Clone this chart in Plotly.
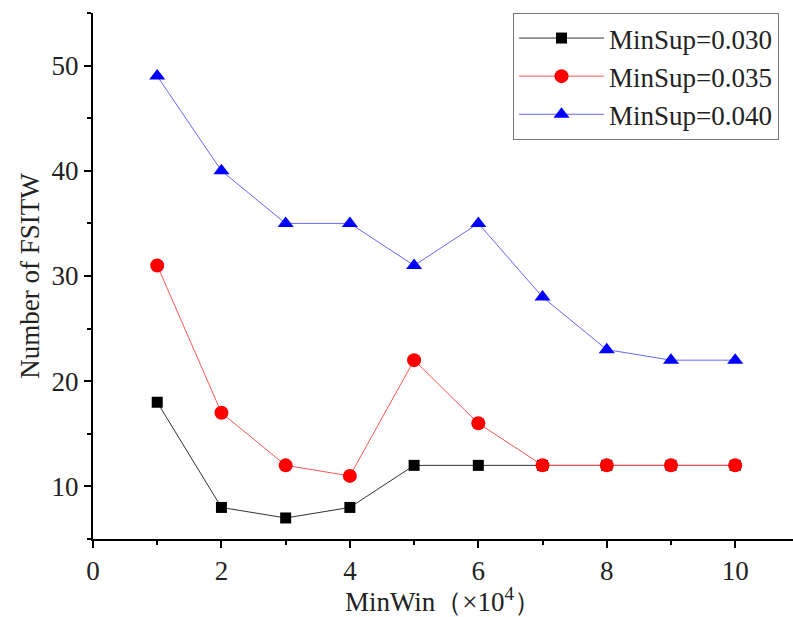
import plotly.graph_objects as go

min_win = [1, 2, 3, 4, 5, 6, 7, 8, 9, 10]
sup_030 = [18, 8, 7, 8, 12, 12, 12, 12, 12, 12]
sup_035 = [31, 17, 12, 11, 22, 16, 12, 12, 12, 12]
sup_040 = [49, 40, 35, 35, 31, 35, 28, 23, 22, 22]

FONT = "Liberation Serif, DejaVu Serif, serif"
TEXT_COLOR = "#222222"

fig = go.Figure()
fig.add_trace(go.Scatter(
    x=min_win, y=sup_030, name="MinSup=0.030", mode="lines+markers",
    line=dict(color="#333333", width=1),
    marker=dict(symbol="square", size=11, color="black"),
))
fig.add_trace(go.Scatter(
    x=min_win, y=sup_035, name="MinSup=0.035", mode="lines+markers",
    line=dict(color="#ff5555", width=1),
    marker=dict(symbol="circle", size=14, color="red"),
))
fig.add_trace(go.Scatter(
    x=min_win, y=sup_040, name="MinSup=0.040", mode="lines+markers",
    line=dict(color="#6666ff", width=1),
    marker=dict(symbol="triangle-up", size=14, color="blue"),
))

axis_common = dict(
    showline=True, linecolor="black", linewidth=2,
    ticks="outside", ticklen=7, tickwidth=2, tickcolor="black",
    showgrid=False, zeroline=False,
    tickfont=dict(family=FONT, size=27, color=TEXT_COLOR),
)

fig.update_xaxes(
    range=[0, 10.9], dtick=2, tick0=0,
    minor=dict(ticks="outside", ticklen=4, tickwidth=2, tickcolor="black", dtick=1, tick0=0),
    title=dict(text="MinWin（×10<sup>4</sup>）", font=dict(family=FONT, size=27, color=TEXT_COLOR), standoff=2),
    **axis_common,
)
fig.update_yaxes(
    range=[5, 55], dtick=10, tick0=0,
    minor=dict(ticks="outside", ticklen=4, tickwidth=2, tickcolor="black", dtick=5, tick0=0),
    title=dict(text="Number of FSITW", font=dict(family=FONT, size=27, color=TEXT_COLOR), standoff=4),
    **axis_common,
)

fig.update_layout(
    width=793, height=617,
    margin=dict(l=93, r=0, t=13, b=78),
    paper_bgcolor="white", plot_bgcolor="white",
    showlegend=True,
    legend=dict(
        x=0.6, y=1.0, xanchor="left", yanchor="top",
        bordercolor="#777777", borderwidth=1, bgcolor="white",
        font=dict(family=FONT, size=27, color=TEXT_COLOR),
        tracegroupgap=0, itemwidth=85,
    ),
)

fig.write_html("out.html")
